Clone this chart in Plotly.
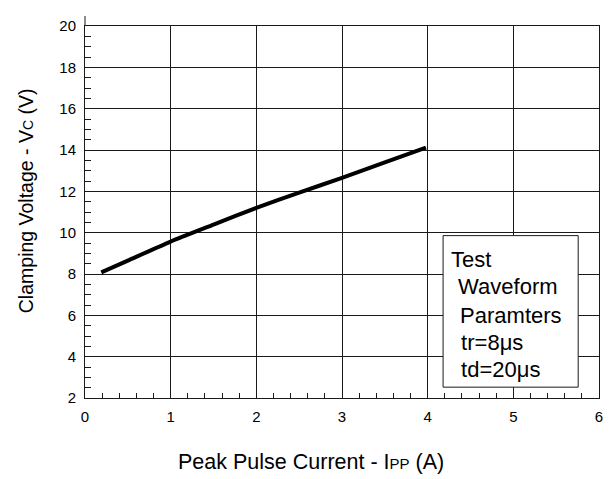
import plotly.graph_objects as go

# Data
current = [0.19, 0.5, 1.0, 1.5, 2.0, 2.5, 3.0, 3.5, 3.98]
voltage = [8.08, 8.65, 9.57, 10.39, 11.2, 11.94, 12.65, 13.4, 14.12]

x_ticks = [0, 1, 2, 3, 4, 5, 6]
y_ticks = [2, 4, 6, 8, 10, 12, 14, 16, 18, 20]

box_lines = ["Test", " Waveform", " Paramters", " tr=8μs", " td=20μs"]
box_line_x = [4.25, 4.26, 4.28, 4.29, 4.29]
box_line_y = [8.71, 7.38, 6.0, 4.67, 3.38]

FONT = "Liberation Sans, Arial, sans-serif"
GRID = "#1a1a1a"

fig = go.Figure()
fig.add_trace(go.Scatter(
    x=current, y=voltage, mode="lines",
    line=dict(color="black", width=4, shape="spline", smoothing=0.5),
    showlegend=False, hoverinfo="skip"))

axis_common = dict(
    showline=True, linecolor=GRID, linewidth=1, mirror=True,
    showgrid=True, gridcolor=GRID, gridwidth=1,
    zeroline=False, ticks="inside", ticklen=5, tickcolor=GRID,
    tickfont=dict(family=FONT, size=15, color="black"),
)

fig.update_xaxes(range=[0, 6], tickmode="array", tickvals=x_ticks,
                 ticklabelstandoff=5,
                 minor=dict(dtick=0.2, ticks="inside", ticklen=5,
                            tickcolor=GRID, showgrid=False),
                 **axis_common)
fig.update_yaxes(range=[2, 20], tickmode="array", tickvals=y_ticks,
                 ticklabelstandoff=5,
                 minor=dict(dtick=0.5, ticks="inside", ticklen=6,
                            tickcolor=GRID, showgrid=False),
                 **axis_common)

shapes = [
    # left axis extends a little above the top gridline
    dict(type="line", xref="paper", yref="paper", x0=0, x1=0, y0=1, y1=1.027,
         line=dict(color=GRID, width=1)),
    # parameters box
    dict(type="rect", xref="x", yref="y", x0=4.18, x1=5.757, y0=2.524, y1=9.857,
         line=dict(color=GRID, width=1), fillcolor="white", layer="above"),
]

annotations = []
for t, bx, by in zip(box_lines, box_line_x, box_line_y):
    annotations.append(dict(
        x=bx, y=by, xref="x", yref="y", text=t.replace(" ", "&nbsp;"),
        showarrow=False, xanchor="left", yanchor="middle",
        font=dict(family=FONT, size=22, color="black")))

annotations.append(dict(
    x=0.439, y=-0.172, xref="paper", yref="paper",
    text='Peak Pulse Current - I<span style="font-size:15px">PP</span> (A)',
    showarrow=False, xanchor="center", yanchor="middle",
    font=dict(family=FONT, size=21.5, color="black")))
annotations.append(dict(
    x=-0.116, y=0.53, xref="paper", yref="paper", textangle=-90,
    text='Clamping Voltage - V<span style="font-size:14px">C</span> (V)',
    showarrow=False, xanchor="center", yanchor="middle",
    font=dict(family=FONT, size=19.5, color="black")))

fig.update_layout(
    width=604, height=471,
    margin=dict(l=77, r=9, t=12, b=81),
    paper_bgcolor="white", plot_bgcolor="white",
    shapes=shapes, annotations=annotations,
    font=dict(family=FONT, color="black"),
)

fig.write_html("out.html")
